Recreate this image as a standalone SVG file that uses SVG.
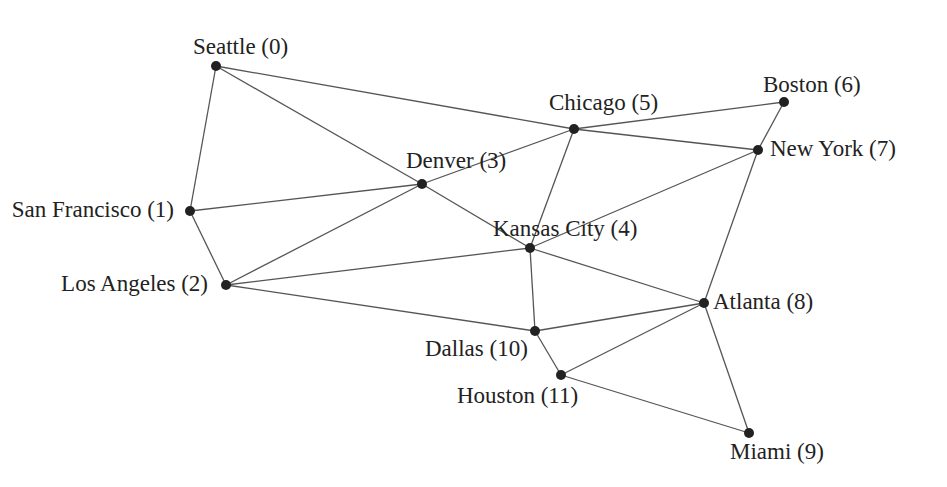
<svg xmlns="http://www.w3.org/2000/svg" width="947" height="487" viewBox="0 0 947 487">
<style>
.e{stroke:#555;stroke-width:1.3;fill:none}
.n{fill:#222}
.t{font-family:"Liberation Serif","Times New Roman",serif;font-size:23px;fill:#222}
</style>
<rect width="947" height="487" fill="#fff"/>
<g id="connectors">
<line class="e" x1="216" y1="66" x2="190" y2="211"/>
<line class="e" x1="216" y1="66" x2="422" y2="184"/>
<line class="e" x1="216" y1="66" x2="574" y2="129"/>
<line class="e" x1="190" y1="211" x2="422" y2="184"/>
<line class="e" x1="190" y1="211" x2="226" y2="285"/>
<line class="e" x1="226" y1="285" x2="422" y2="184"/>
<line class="e" x1="226" y1="285" x2="530" y2="248"/>
<line class="e" x1="226" y1="285" x2="535" y2="331"/>
<line class="e" x1="422" y1="184" x2="574" y2="129"/>
<line class="e" x1="422" y1="184" x2="530" y2="248"/>
<line class="e" x1="530" y1="248" x2="574" y2="129"/>
<line class="e" x1="530" y1="248" x2="758" y2="150"/>
<line class="e" x1="530" y1="248" x2="704" y2="303"/>
<line class="e" x1="530" y1="248" x2="535" y2="331"/>
<line class="e" x1="574" y1="129" x2="784" y2="102"/>
<line class="e" x1="574" y1="129" x2="758" y2="150"/>
<line class="e" x1="784" y1="102" x2="758" y2="150"/>
<line class="e" x1="758" y1="150" x2="704" y2="303"/>
<line class="e" x1="704" y1="303" x2="749" y2="433"/>
<line class="e" x1="704" y1="303" x2="535" y2="331"/>
<line class="e" x1="704" y1="303" x2="561" y2="375"/>
<line class="e" x1="535" y1="331" x2="561" y2="375"/>
<line class="e" x1="561" y1="375" x2="749" y2="433"/>
</g>
<g id="n0"><circle class="n" cx="216" cy="66" r="5"/><text class="t" x="193" y="54">Seattle (0)</text></g>
<g id="n1"><circle class="n" cx="190" cy="211" r="5"/><text class="t" x="174" y="217" text-anchor="end">San Francisco (1)</text></g>
<g id="n2"><circle class="n" cx="226" cy="285" r="5"/><text class="t" x="208" y="291" text-anchor="end">Los Angeles (2)</text></g>
<g id="n3"><circle class="n" cx="422" cy="184" r="5"/><text class="t" x="406" y="168">Denver (3)</text></g>
<g id="n4"><circle class="n" cx="530" cy="248" r="5"/><text class="t" x="493" y="236">Kansas City (4)</text></g>
<g id="n5"><circle class="n" cx="574" cy="129" r="5"/><text class="t" x="549" y="110">Chicago (5)</text></g>
<g id="n6"><circle class="n" cx="784" cy="102" r="5"/><text class="t" x="763" y="92">Boston (6)</text></g>
<g id="n7"><circle class="n" cx="758" cy="150" r="5"/><text class="t" x="770" y="156">New York (7)</text></g>
<g id="n8"><circle class="n" cx="704" cy="303" r="5"/><text class="t" x="713" y="309">Atlanta (8)</text></g>
<g id="n9"><circle class="n" cx="749" cy="433" r="5"/><text class="t" x="730" y="459">Miami (9)</text></g>
<g id="n10"><circle class="n" cx="535" cy="331" r="5"/><text class="t" x="425" y="356">Dallas (10)</text></g>
<g id="n11"><circle class="n" cx="561" cy="375" r="5"/><text class="t" x="457" y="403">Houston (11)</text></g>
</svg>
